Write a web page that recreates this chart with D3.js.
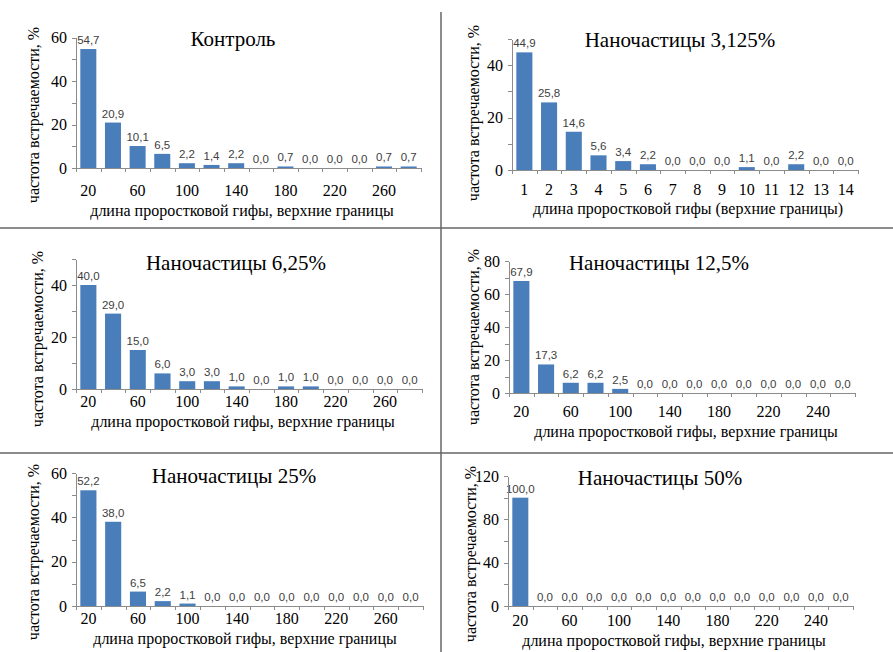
<!DOCTYPE html>
<html lang="ru">
<head>
    <meta charset="UTF-8">
    <title>Частота встречаемости длины проростковой гифы</title>
    <style>
        body {
            margin: 0;
            padding: 0;
            background: #fff;
        }
        svg {
            display: block;
        }
        .axis path, .axis line {
            stroke: #8c8c8c;
            shape-rendering: crispEdges;
        }
        .axis text {
            font-family: "Liberation Serif", "Times New Roman", Times, "DejaVu Serif", serif;
            font-size: 16px;
            fill: #000;
        }
        .bar {
            fill: #4a7ebb;
        }
        .bar-label {
            font-family: "Liberation Sans", Arial, sans-serif;
            font-size: 11.5px;
            fill: #404040;
        }
        .panel-title {
            font-family: "Liberation Serif", "Times New Roman", Times, "DejaVu Serif", serif;
            font-size: 21px;
            fill: #000;
        }
        .axis-title {
            font-family: "Liberation Serif", "Times New Roman", Times, "DejaVu Serif", serif;
            font-size: 16px;
            fill: #000;
        }
        .divider {
            stroke: #666;
            stroke-width: 1.5;
        }
    </style>
</head>
<body>
<svg id="chart"></svg>
<script src="https://cdn.jsdelivr.net/npm/d3@7"></script>
<script>
// Data
const lengthBins = [20, 40, 60, 80, 100, 120, 140, 160, 180, 200, 220, 240, 260, 280];

const ticksEven = ["20", "", "60", "", "100", "", "140", "", "180", "", "220", "", "260", ""];
const ticksAlt  = ["20", "", "60", "", "100", "", "140", "", "180", "", "220", "", "240", ""];
const ticksNum  = ["1", "2", "3", "4", "5", "6", "7", "8", "9", "10", "11", "12", "13", "14"];

const control   = [54.7, 20.9, 10.1, 6.5, 2.2, 1.4, 2.2, 0.0, 0.7, 0.0, 0.0, 0.0, 0.7, 0.7];
const nano3125  = [44.9, 25.8, 14.6, 5.6, 3.4, 2.2, 0.0, 0.0, 0.0, 1.1, 0.0, 2.2, 0.0, 0.0];
const nano625   = [40.0, 29.0, 15.0, 6.0, 3.0, 3.0, 1.0, 0.0, 1.0, 1.0, 0.0, 0.0, 0.0, 0.0];
const nano125   = [67.9, 17.3, 6.2, 6.2, 2.5, 0.0, 0.0, 0.0, 0.0, 0.0, 0.0, 0.0, 0.0, 0.0];
const nano25    = [52.2, 38.0, 6.5, 2.2, 1.1, 0.0, 0.0, 0.0, 0.0, 0.0, 0.0, 0.0, 0.0, 0.0];
const nano50    = [100.0, 0.0, 0.0, 0.0, 0.0, 0.0, 0.0, 0.0, 0.0, 0.0, 0.0, 0.0, 0.0, 0.0];

const titles = ["Контроль", "Наночастицы 3,125%", "Наночастицы 6,25%",
                "Наночастицы 12,5%", "Наночастицы 25%", "Наночастицы 50%"];
const yTitle = "частота встречаемости, %";
const xTitleA = "длина проростковой гифы, верхние границы";
const xTitleB = "длина проростковой гифы (верхние границы)";

// Layout of the six panels
const width = 893, height = 652;

const panels = [
    { values: control,  ticks: ticksEven, title: titles[0], xTitle: xTitleA, yMax: 60,  yMajor: 20, yMinor: 10,
      left: 76,  right: 421, y0: 168, yTop: 37.5, titleX: 233, titleY: 46, tickY: 185, xTitleX: 242, xTitleY: 216, yTitleX: 33, yTitleY: 115 },
    { values: nano3125, ticks: ticksNum,  title: titles[1], xTitle: xTitleB, yMax: 50,  yMajor: 20, yMinor: 10,
      left: 512, right: 858, y0: 170, yTop: 39,   titleX: 680, titleY: 47, tickY: 184, xTitleX: 688, xTitleY: 214, yTitleX: 473, yTitleY: 113 },
    { values: nano625,  ticks: ticksEven, title: titles[2], xTitle: xTitleA, yMax: 50,  yMajor: 20, yMinor: 10,
      left: 76,  right: 422, y0: 389, yTop: 259,  titleX: 236, titleY: 270, tickY: 396, xTitleX: 243, xTitleY: 427, yTitleX: 37, yTitleY: 339 },
    { values: nano125,  ticks: ticksAlt,  title: titles[3], xTitle: xTitleA, yMax: 80,  yMajor: 20, yMinor: 10,
      left: 509, right: 855, y0: 393, yTop: 261,  titleX: 659, titleY: 270, tickY: 406, xTitleX: 686, xTitleY: 437, yTitleX: 473, yTitleY: 337 },
    { values: nano25,   ticks: ticksEven, title: titles[4], xTitle: xTitleA, yMax: 60,  yMajor: 20, yMinor: 10,
      left: 76,  right: 423, y0: 606, yTop: 473,  titleX: 234, titleY: 483, tickY: 613, xTitleX: 245, xTitleY: 644, yTitleX: 33, yTitleY: 552 },
    { values: nano50,   ticks: ticksAlt,  title: titles[5], xTitle: xTitleA, yMax: 120, yMajor: 40, yMinor: 20,
      left: 508, right: 853, y0: 606, yTop: 476,  titleX: 660, titleY: 485, tickY: 615, xTitleX: 674, xTitleY: 646, yTitleX: 470, yTitleY: 554 }
];

const svg = d3.select("#chart")
    .attr("width", width)
    .attr("height", height);

// Divider lines between panels
svg.append("line").attr("class", "divider")
    .attr("x1", 441).attr("x2", 441).attr("y1", 12).attr("y2", height);
svg.append("line").attr("class", "divider")
    .attr("x1", 0).attr("x2", width).attr("y1", 228).attr("y2", 228);
svg.append("line").attr("class", "divider")
    .attr("x1", 0).attr("x2", width).attr("y1", 453).attr("y2", 453);

const fmt = v => v.toFixed(1).replace(".", ",");

panels.forEach(p => {
    const g = svg.append("g");

    const x = d3.scaleBand()
        .domain(lengthBins)
        .range([p.left, p.right])
        .paddingInner(0.35)
        .paddingOuter(0.175);

    const xEdge = d3.scaleLinear()
        .domain([0, lengthBins.length])
        .range([p.left, p.right]);

    const y = d3.scaleLinear()
        .domain([0, p.yMax])
        .range([p.y0, p.yTop]);

    // bars
    g.selectAll(".bar")
        .data(p.values)
        .enter()
        .append("rect")
        .attr("class", "bar")
        .attr("x", (d, i) => x(lengthBins[i]))
        .attr("width", x.bandwidth())
        .attr("y", d => y(d))
        .attr("height", d => y(0) - y(d));

    // value labels
    g.selectAll(".bar-label")
        .data(p.values)
        .enter()
        .append("text")
        .attr("class", "bar-label")
        .attr("text-anchor", "middle")
        .attr("x", (d, i) => x(lengthBins[i]) + x.bandwidth() / 2)
        .attr("y", d => y(d) - 5)
        .text(d => fmt(d));

    // y axis
    const yAxis = g.append("g")
        .attr("class", "axis")
        .attr("transform", `translate(${p.left},0)`)
        .call(d3.axisLeft(y)
            .tickValues(d3.range(0, p.yMax + 1, p.yMinor))
            .tickFormat(d => d % p.yMajor === 0 ? d : "")
            .tickSize(4)
            .tickPadding(5)
            .tickSizeOuter(0));
    yAxis.attr("font-family", null).attr("font-size", null);

    // x axis line + tick marks at band edges
    g.append("g")
        .attr("class", "axis")
        .attr("transform", `translate(0,${p.y0})`)
        .call(d3.axisBottom(xEdge)
            .tickValues(d3.range(lengthBins.length + 1))
            .tickFormat("")
            .tickSize(4)
            .tickSizeOuter(0));

    // x tick labels
    const xLabels = g.append("g")
        .attr("class", "axis")
        .attr("transform", `translate(0,${p.tickY})`)
        .call(d3.axisBottom(x)
            .tickFormat((d, i) => p.ticks[i])
            .tickSize(0)
            .tickPadding(0));
    xLabels.attr("font-family", null).attr("font-size", null);
    xLabels.select(".domain").remove();

    // titles
    g.append("text")
        .attr("class", "panel-title")
        .attr("text-anchor", "middle")
        .attr("x", p.titleX)
        .attr("y", p.titleY)
        .text(p.title);

    g.append("text")
        .attr("class", "axis-title")
        .attr("text-anchor", "middle")
        .attr("x", p.xTitleX)
        .attr("y", p.xTitleY)
        .text(p.xTitle);

    g.append("text")
        .attr("class", "axis-title")
        .attr("text-anchor", "middle")
        .attr("transform", `translate(${p.yTitleX},${p.yTitleY}) rotate(-90)`)
        .attr("dy", "0.35em")
        .text(yTitle);
});
</script>
</body>
</html>
